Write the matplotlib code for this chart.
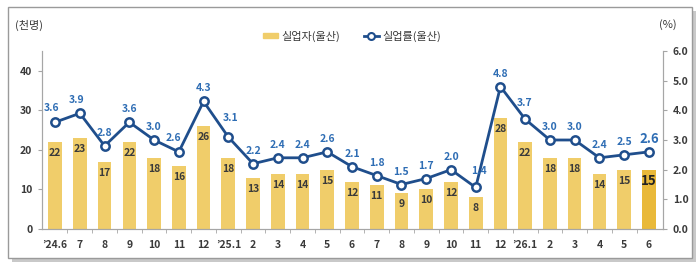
"""
울산 실업자 및 실업률 추이 (막대 + 꺾은선, 이중축)
"""

import matplotlib
matplotlib.use("Agg")
import matplotlib.pyplot as plt
import matplotlib.patches as mpatches
from matplotlib.lines import Line2D
from matplotlib.ticker import FormatStrFormatter

plt.rcParams["font.family"] = ["Noto Sans CJK KR", "DejaVu Sans"]

# 데이터
meses = ["’24.6", "7", "8", "9", "10", "11", "12", "’25.1", "2", "3", "4", "5",
         "6", "7", "8", "9", "10", "11", "12", "’26.1", "2", "3", "4", "5", "6"]
desempregados = [22, 23, 17, 22, 18, 16, 26, 18, 13, 14, 14, 15,
                 12, 11, 9, 10, 12, 8, 28, 22, 18, 18, 14, 15, 15]
taxa = [3.6, 3.9, 2.8, 3.6, 3.0, 2.6, 4.3, 3.1, 2.2, 2.4, 2.4, 2.6,
        2.1, 1.8, 1.5, 1.7, 2.0, 1.4, 4.8, 3.7, 3.0, 3.0, 2.4, 2.5, 2.6]
ticks_esq = [0, 10, 20, 30, 40]
ticks_dir = [0, 1, 2, 3, 4, 5, 6]

# 색상
COR_BARRA = "#F0CD6A"
COR_BARRA_ULT = "#E9B93A"
COR_LINHA = "#1F4E8C"
COR_ROTULO_LINHA = "#2E6DB4"
COR_TEXTO = "#3A3A3A"
COR_EIXO = "#A6A6A6"

W, H = 700, 265
fig = plt.figure(figsize=(W / 100, H / 100), dpi=100, facecolor="white")

# moldura com sombra
sombra = mpatches.Rectangle((12 / W, 1 - 262 / H), 684 / W, 251 / H,
                            transform=fig.transFigure, facecolor="#C9C9C9",
                            edgecolor="none", zorder=0)
moldura = mpatches.Rectangle((8 / W, 1 - 258 / H), 684 / W, 251 / H,
                             transform=fig.transFigure, facecolor="white",
                             edgecolor="#9A9A9A", lw=1.0, zorder=0.5)
fig.patches.extend([sombra, moldura])

ax = fig.add_axes([42 / W, 1 - 229 / H, (663 - 42) / W, (229 - 51) / H])
ax2 = ax.twinx()
ax.set_zorder(1)
ax2.set_zorder(2)
ax.patch.set_visible(False)
ax2.patch.set_visible(False)

x = list(range(len(meses)))
cores = [COR_BARRA] * (len(x) - 1) + [COR_BARRA_ULT]
barras = ax.bar(x, desempregados, width=0.55, color=cores, edgecolor="none")

for i, (barra, v) in enumerate(zip(barras, desempregados)):
    ultimo = i == len(x) - 1
    ax.annotate(str(v), (barra.get_x() + barra.get_width() / 2, v),
                xytext=(0, -11), textcoords="offset pixels",
                ha="center", va="center", color="#222222" if ultimo else COR_TEXTO,
                fontsize=9.5 if ultimo else 7.5, fontweight="bold")

ax2.plot(x, taxa, color=COR_LINHA, lw=2, marker="o", markersize=6,
         markerfacecolor="white", markeredgecolor=COR_LINHA, markeredgewidth=1.8)

# deslocamentos especiais dos rótulos (pixels)
desloc = {0: (-4, 14), 1: (-3, 13), 5: (-5, 14), 7: (2, 19), 17: (3, 16), 19: (-1, 16)}
for i, v in enumerate(taxa):
    dx, dy = desloc.get(i, (0, 13))
    ultimo = i == len(x) - 1
    ax2.annotate(f"{v:.1f}", (i, v), xytext=(dx, dy), textcoords="offset pixels",
                 ha="center", va="center", color=COR_ROTULO_LINHA,
                 fontsize=9.5 if ultimo else 7.5, fontweight="bold")

ax.set_xlim(-0.53, 24.57)
ax.set_ylim(0, 45)
ax2.set_ylim(0, 6)
ax.set_yticks(ticks_esq)
ax2.set_yticks(ticks_dir)
ax2.yaxis.set_major_formatter(FormatStrFormatter("%.1f"))

ax.set_xticks(x)
ax.set_xticklabels(meses)
ax.set_xticks([i + 0.5 for i in x[:-1]], minor=True)
ax.tick_params(axis="x", which="major", length=0, pad=8)
ax.tick_params(axis="x", which="minor", length=3, color=COR_EIXO)

for a in (ax, ax2):
    a.spines["top"].set_visible(False)
    for lado in ("left", "right", "bottom"):
        a.spines[lado].set_color(COR_EIXO)
    a.tick_params(axis="y", length=3, color=COR_EIXO, labelsize=7.5,
                  labelcolor=COR_TEXTO, pad=4)
    a.tick_params(axis="x", labelsize=7.5, labelcolor=COR_TEXTO)
    for t in a.get_xticklabels() + a.get_yticklabels():
        t.set_fontweight("bold")

fig.text(15 / W, 1 - 25 / H, "(천명)", fontsize=8, color=COR_TEXTO, va="center")
fig.text(668 / W, 1 - 25 / H, "(%)", fontsize=8, color=COR_TEXTO, va="center", ha="center")

# legenda
legenda = [
    mpatches.Patch(color=COR_BARRA, label="실업자(울산)"),
    Line2D([], [], color=COR_LINHA, lw=2, marker="o", markersize=5,
           markerfacecolor="white", markeredgewidth=1.5, label="실업률(울산)"),
]
fig.legend(handles=legenda, loc="center", bbox_to_anchor=(352 / W, 1 - 36 / H),
           ncol=2, frameon=False, fontsize=8, labelcolor=COR_TEXTO,
           handlelength=1.3, handleheight=0.45, handletextpad=0.3, columnspacing=2.2)

fig.savefig("out.png", dpi=100, facecolor=fig.get_facecolor())
